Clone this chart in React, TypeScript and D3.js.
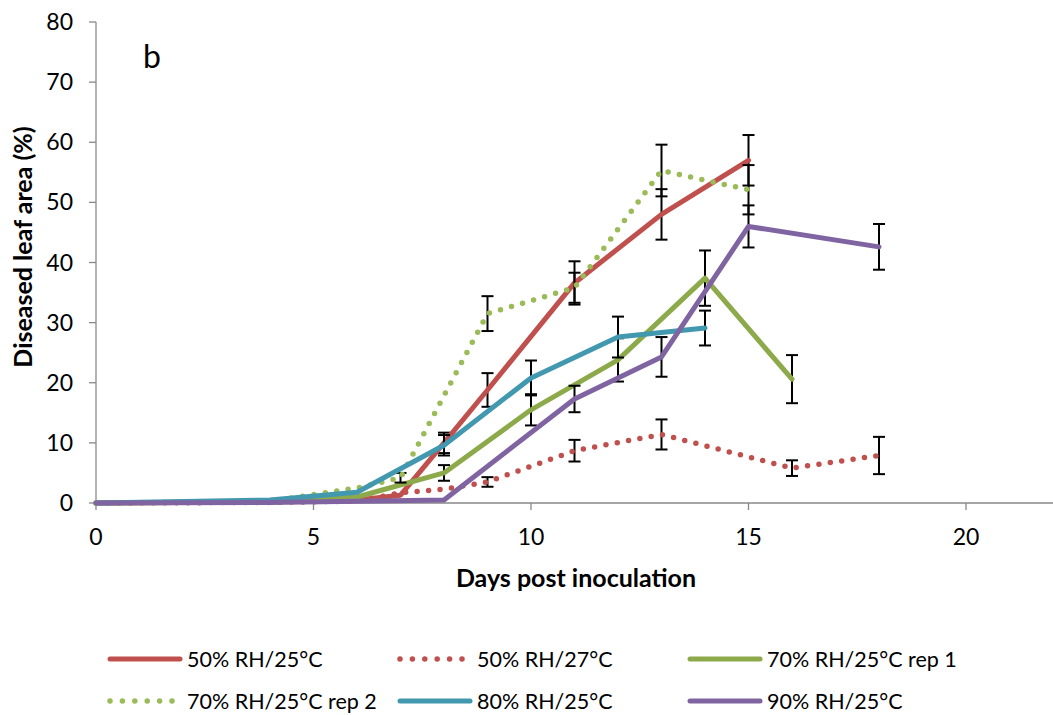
import React from "react";
import * as d3 from "d3";

const W = 1053;
const H = 715;

const xTicks = [0, 5, 10, 15, 20];
const yTicks = [0, 10, 20, 30, 40, 50, 60, 70, 80];

const redSolidDays = [0, 4, 6, 7, 8, 9, 11, 13, 15];
const redSolidVals = [0, 0.2, 0.5, 1.3, 10, 18.8, 36.6, 48, 57];
const redSolidErr = [null, null, null, null, 1.7, 2.8, 3.6, 4.2, 4.2];

const redDotDays = [0, 4, 6, 7, 8, 9, 11, 13, 16, 18];
const redDotVals = [0, 0.1, 0.3, 1.7, 2.3, 3.5, 8.7, 11.4, 5.8, 7.9];
const redDotErr = [null, null, null, null, null, 0.8, 1.8, 2.5, 1.3, 3.1];

const green1Days = [0, 4, 6, 8, 10, 12, 14, 16];
const green1Vals = [0, 0.2, 1, 5, 15.5, 23.8, 37.4, 20.6];
const green1Err = [null, null, null, 1.3, 2.6, 3.6, 4.6, 4];

const green2Days = [0, 4, 6, 7, 9, 11, 13, 15];
const green2Vals = [0, 0.3, 2.5, 4.2, 31.5, 35.8, 55.3, 52.1];
const green2Err = [null, null, null, 0.8, 2.9, 2.5, 4.3, 4.1];

const cyanDays = [0, 4, 6, 8, 10, 12, 14];
const cyanVals = [0, 0.5, 1.8, 9.6, 20.8, 27.6, 29.1];
const cyanErr = [null, null, null, 1.7, 2.9, 3.4, 2.9];

const purpleDays = [0, 4, 6, 8, 11, 13, 15, 18];
const purpleVals = [0, 0.1, 0.3, 0.5, 17.3, 24.3, 46, 42.6];
const purpleErr = [null, null, null, null, 2.2, 3.3, 3.5, 3.8];

const seriesNames = [
  "50% RH/25°C",
  "50% RH/27°C",
  "70% RH/25°C rep 1",
  "70% RH/25°C rep 2",
  "80% RH/25°C",
  "90% RH/25°C",
];

const series = [
  { name: seriesNames[0], days: redSolidDays, vals: redSolidVals, err: redSolidErr, color: "#C0504D", dotted: false },
  { name: seriesNames[1], days: redDotDays, vals: redDotVals, err: redDotErr, color: "#C0504D", dotted: true },
  { name: seriesNames[2], days: green1Days, vals: green1Vals, err: green1Err, color: "#8DAA4B", dotted: false },
  { name: seriesNames[3], days: green2Days, vals: green2Vals, err: green2Err, color: "#9BBB59", dotted: true },
  { name: seriesNames[4], days: cyanDays, vals: cyanVals, err: cyanErr, color: "#4198AF", dotted: false },
  { name: seriesNames[5], days: purpleDays, vals: purpleVals, err: purpleErr, color: "#8064A2", dotted: false },
];

const FONT = "Lato, 'Open Sans', sans-serif";

export default function App() {
  const x = d3.scaleLinear().domain([0, 22]).range([96, 1053]);
  const y = d3.scaleLinear().domain([0, 80]).range([503, 22]);
  const line = d3
    .line<[number, number]>()
    .x((d) => x(d[0]))
    .y((d) => y(d[1]));

  const legendPos = [
    { lx: 110, ly: 659 },
    { lx: 400, ly: 659 },
    { lx: 690, ly: 659 },
    { lx: 110, ly: 701 },
    { lx: 400, ly: 701 },
    { lx: 690, ly: 701 },
  ];

  return (
    <svg
      width={W}
      height={H}
      style={{ position: "absolute", left: 0, top: 0, background: "#fff" }}
      fontFamily={FONT}
    >
      <rect x={0} y={0} width={W} height={H} fill="#fff" />
      {/* axes */}
      <line x1={x(0)} x2={x(0)} y1={y(0)} y2={y(80)} stroke="#898989" strokeWidth={1.3} />
      <line x1={x(0)} x2={x(22)} y1={y(0)} y2={y(0)} stroke="#898989" strokeWidth={1.3} />
      {yTicks.map((t) => (
        <g key={"y" + t}>
          <line x1={x(0) - 7} x2={x(0)} y1={y(t)} y2={y(t)} stroke="#898989" strokeWidth={1.3} />
          <text x={73} y={y(t)} dy="0.35em" textAnchor="end" fontSize={23} fill="#000">
            {t}
          </text>
        </g>
      ))}
      {xTicks.map((t) => (
        <g key={"x" + t}>
          <line x1={x(t)} x2={x(t)} y1={y(0)} y2={y(0) + 7} stroke="#898989" strokeWidth={1.3} />
          <text x={x(t)} y={537} dy="0.35em" textAnchor="middle" fontSize={23} fill="#000">
            {t}
          </text>
        </g>
      ))}
      <text
        transform={`translate(23,247) rotate(-90)`}
        textAnchor="middle"
        dy="0.35em"
        fontSize={25}
        fontWeight="bold"
        fill="#000"
      >
        Diseased leaf area (%)
      </text>
      <text x={576} y={578} dy="0.35em" textAnchor="middle" fontSize={25} fontWeight="bold" fill="#000">
        Days post inoculation
      </text>
      <text x={152} y={57} dy="0.35em" textAnchor="middle" fontSize={32} fill="#000">
        b
      </text>

      {/* series */}
      {series.map((s, i) => {
        const pts: [number, number][] = s.days.map((d, j) => [d, s.vals[j]]);
        return (
          <g key={"s" + i}>
            {s.days.map((d, j) => {
              const e = s.err[j];
              if (e == null) return null;
              const cx = x(d);
              const y1 = y(s.vals[j] + e);
              const y2 = y(s.vals[j] - e);
              return (
                <g key={"e" + j} stroke="#000" strokeWidth={2}>
                  <line x1={cx} x2={cx} y1={y1} y2={y2} />
                  <line x1={cx - 6} x2={cx + 6} y1={y1} y2={y1} />
                  <line x1={cx - 6} x2={cx + 6} y1={y2} y2={y2} />
                </g>
              );
            })}
            <path
              d={line(pts) || ""}
              fill="none"
              stroke={s.color}
              strokeWidth={s.dotted ? 5.5 : 5}
              strokeLinecap="round"
              strokeLinejoin="round"
              strokeDasharray={s.dotted ? "0 11.5" : undefined}
            />
          </g>
        );
      })}

      {/* legend */}
      {series.map((s, i) => {
        const p = legendPos[i];
        const len = s.dotted ? 62 : 70;
        return (
          <g key={"l" + i}>
            <line
              x1={p.lx}
              x2={p.lx + len}
              y1={p.ly}
              y2={p.ly}
              stroke={s.color}
              strokeWidth={s.dotted ? 5.5 : 5}
              strokeLinecap="round"
              strokeDasharray={s.dotted ? "0 12.4" : undefined}
            />
            <text x={p.lx + 77} y={p.ly} dy="0.35em" fontSize={21.5} fill="#000">
              {s.name}
            </text>
          </g>
        );
      })}
    </svg>
  );
}
